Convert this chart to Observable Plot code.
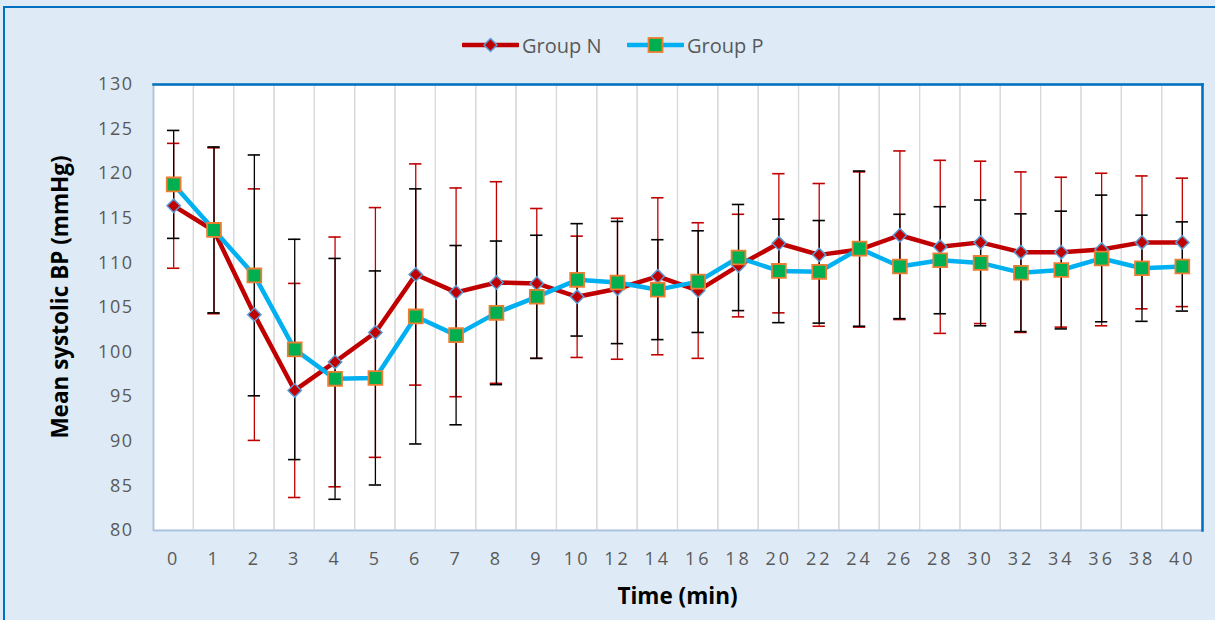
<!DOCTYPE html>
<html><head><meta charset="utf-8">
<script src="https://cdn.jsdelivr.net/npm/d3@7"></script>
<script src="https://cdn.jsdelivr.net/npm/@observablehq/plot@0.6"></script>
<style>
body{margin:0;background:#DEEBF7;}
#wrap{position:relative;width:1215px;height:620px;background:#DEEBF7;overflow:hidden;font-family:"Open Sans",sans-serif;}
#border{position:absolute;left:3px;top:6px;width:1300px;height:700px;border-left:2.5px solid #0070C0;border-top:2.5px solid #0070C0;}
#chart{position:absolute;left:0;top:0;}
.leg{position:absolute;top:32px;height:26px;display:flex;align-items:center;color:#595959;font-size:20px;}
.leg svg{margin-right:3px;}
#xt{position:absolute;left:153px;width:1049px;top:580px;text-align:center;font-weight:bold;font-size:22.5px;line-height:32px;color:#000;}
#yt{position:absolute;left:0;top:0;transform-origin:0 0;transform:translate(44px,297px) rotate(-90deg) translate(-50%,0);white-space:nowrap;font-weight:bold;font-size:22.5px;line-height:31px;color:#000;}
</style>
</head><body>
<div id="wrap">
<div id="border"></div>
<div id="chart"></div>
<div class="leg" style="left:462px"><svg width="57" height="20"><line x1="1" x2="56" y1="10" y2="10" stroke="#C00000" stroke-width="4.5" stroke-linecap="round"/><path d="M28.5,3.5L35,10L28.5,16.5L22,10Z" fill="#C00000" stroke="#5B9BD5" stroke-width="1.5"/></svg><span>Group N</span></div>
<div class="leg" style="left:627px"><svg width="57" height="20"><line x1="1" x2="56" y1="10" y2="10" stroke="#00B0F0" stroke-width="4.5" stroke-linecap="round"/><rect x="21.5" y="3" width="14" height="14" fill="#00B050" stroke="#ED7D31" stroke-width="1.8"/></svg><span>Group P</span></div>
<div id="xt">Time (min)</div>
<div id="yt">Mean systolic BP (mmHg)</div>
</div>
<script>
const times = ["0","1","2","3","4","5","6","7","8","9","10","12","14","16","18","20","22","24","26","28","30","32","34","36","38","40"];
const nMean = [116.4,113.6,104.2,95.7,98.9,102.2,108.7,106.7,107.8,107.7,106.2,107.1,108.5,106.9,109.7,112.2,110.9,111.5,113.1,111.8,112.3,111.2,111.2,111.5,112.3,112.3];
const nSD   = [7.0,9.3,14.1,12.0,14.0,14.0,12.4,11.7,11.3,8.4,6.8,7.9,8.8,7.6,5.75,7.8,8.0,8.7,9.45,9.7,9.1,9.0,8.4,8.55,7.45,7.2];
const pMean = [118.8,113.7,108.6,100.3,97.0,97.1,104.0,101.9,104.4,106.2,108.1,107.8,107.0,107.9,110.6,109.1,109.0,111.6,109.6,110.3,110.0,108.9,109.2,110.5,109.4,109.6];
const pSD   = [6.05,9.3,13.5,12.35,13.5,12.0,14.3,10.05,8.05,6.9,6.3,6.85,5.6,5.7,5.95,5.8,5.75,8.7,5.85,6.0,7.05,6.6,6.6,7.1,5.95,5.0];
const yTicks = [80,85,90,95,100,105,110,115,120,125,130];

const rowsN = times.map((t,i)=>({t, mean:nMean[i], lo:nMean[i]-nSD[i], hi:nMean[i]+nSD[i]}));
const rowsP = times.map((t,i)=>({t, mean:pMean[i], lo:pMean[i]-pSD[i], hi:pMean[i]+pSD[i]}));

const errMarks = (rows, color) => [
  Plot.ruleX(rows, {x:"t", y1:"lo", y2:"hi", stroke:color, strokeWidth:1.3}),
  Plot.tickY(rows, {x:"t", y:"hi", stroke:color, strokeWidth:1.6, inset:14}),
  Plot.tickY(rows, {x:"t", y:"lo", stroke:color, strokeWidth:1.6, inset:14})
];

const chart = Plot.plot({
  width:1215, height:620,
  marginLeft:153, marginRight:13, marginTop:84, marginBottom:90,
  style:{background:"transparent", fontFamily:"Open Sans, sans-serif", fontSize:"18px", color:"#595959", overflow:"visible"},
  x:{type:"band", domain:times, padding:0, round:false, tickSize:0, tickPadding:22, label:null},
  y:{domain:[80,130], ticks:yTicks, tickSize:0, tickPadding:20, label:null},
  marks:[
    Plot.frame({fill:"white", stroke:"#A9C4E4", strokeWidth:1.5}),
    Plot.cell(times, {x:d=>d, fill:"none", stroke:"#D9D9D9", strokeWidth:1.2}),
    Plot.frame({stroke:"#A9C4E4", strokeWidth:1.5}),
    Plot.frame({anchor:"top", stroke:"#0070C0", strokeWidth:2.5}),
    Plot.frame({anchor:"right", stroke:"#0070C0", strokeWidth:2.5}),
    ...errMarks(rowsN, "#C00000"),
    ...errMarks(rowsP, "#000000"),
    Plot.line(rowsN, {x:"t", y:"mean", stroke:"#C00000", strokeWidth:4.5}),
    Plot.dot(rowsN, {x:"t", y:"mean", symbol:"diamond2", r:6, fill:"#C00000", stroke:"#5B9BD5", strokeWidth:1.5}),
    Plot.line(rowsP, {x:"t", y:"mean", stroke:"#00B0F0", strokeWidth:4.5}),
    Plot.dot(rowsP, {x:"t", y:"mean", symbol:"square", r:7.8, fill:"#00B050", stroke:"#ED7D31", strokeWidth:1.8})
  ]
});
document.getElementById("chart").appendChild(chart);
const s = d3.select(chart);
s.selectAll('g[aria-label^="x-axis"] text').style("font-size","18px").style("letter-spacing","3px").attr("fill","#595959");
s.selectAll('g[aria-label^="y-axis"] text').style("font-size","18px").style("letter-spacing","1.5px").attr("fill","#595959");
</script>
</body></html>
